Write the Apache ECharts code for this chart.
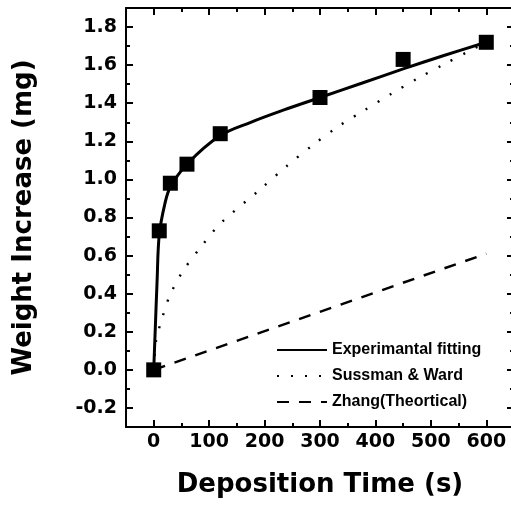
<!DOCTYPE html>
<html>
<head>
<meta charset="utf-8">
<script src="https://cdn.jsdelivr.net/npm/echarts@6/dist/echarts.min.js"></script>
<style>
  html, body { margin: 0; padding: 0; background: #fff; }
  #chart { width: 511px; height: 505px; }
</style>
</head>
<body>
<div id="chart"></div>
<script>
// Measured weight gain at each deposition time (squares)
const measuredTime   = [0, 10, 30, 60, 120, 300, 450, 600];
const measuredWeight = [0, 0.73, 0.98, 1.08, 1.24, 1.43, 1.63, 1.72];

// Experimental fitting curve
const fitTime   = [0, 3, 6, 10, 20, 30, 60, 120, 175, 235, 300, 375, 450, 525, 600];
const fitWeight = [0, 0.23, 0.46, 0.71, 0.87, 0.96, 1.08, 1.23, 1.30, 1.365, 1.43, 1.505, 1.58, 1.652, 1.72];

// Sussman & Ward model
const sussmanTime   = [0, 4, 14, 29, 53, 85, 121, 191, 240, 287, 334, 381, 429, 476, 524, 570, 600];
const sussmanWeight = [0, 0.15, 0.26, 0.39, 0.52, 0.645, 0.77, 0.945, 1.07, 1.18, 1.28, 1.365, 1.45, 1.53, 1.605, 1.675, 1.72];

// Zhang theoretical prediction
const zhangTime   = [0, 600];
const zhangWeight = [0, 0.61];

const seriesNames = ['Experimantal fitting', 'Sussman & Ward', 'Zhang(Theortical)'];

// Axis ranges and labelled ticks
const xRange = [-50, 650];
const yRange = [-0.3, 1.9];
const xTickValues = [0, 100, 200, 300, 400, 500, 600];
const yTickValues = [-0.2, 0, 0.2, 0.4, 0.6, 0.8, 1.0, 1.2, 1.4, 1.6, 1.8];

const pairs = (xs, ys) => xs.map((x, i) => [x, ys[i]]);

const black = '#000';
const tickFont = 'DejaVu Sans';
const line = { show: true, onZero: false, lineStyle: { color: black, width: 2 } };

// Each side gets two stacked axes: one for the short minor ticks, one for the long major ticks
function xAxisPair(position, withLabels) {
  const base = {
    type: 'value', position: position, gridIndex: 0,
    min: xRange[0], max: xRange[1], interval: 50,
    splitLine: { show: false }
  };
  return [
    Object.assign({}, base, {
      axisLine: line,
      axisTick: { show: true, inside: true, length: 4, lineStyle: { color: black, width: 2 } },
      axisLabel: withLabels ? {
        show: true, customValues: xTickValues, margin: 6,
        color: black, fontFamily: tickFont, fontWeight: 'bold', fontSize: 19,
        formatter: v => String(v)
      } : { show: false },
      name: withLabels ? 'Deposition Time (s)' : '',
      nameLocation: 'middle', nameGap: 45,
      nameTextStyle: { color: black, fontFamily: tickFont, fontWeight: 'bold', fontSize: 26 }
    }),
    Object.assign({}, base, {
      axisLine: { show: false, onZero: false },
      axisTick: { show: true, inside: true, length: 7, customValues: xTickValues, lineStyle: { color: black, width: 2 } },
      axisLabel: { show: false }
    })
  ];
}

function yAxisPair(position, withLabels) {
  const base = {
    type: 'value', position: position, gridIndex: 0,
    min: yRange[0], max: yRange[1], interval: 0.1,
    splitLine: { show: false }
  };
  return [
    Object.assign({}, base, {
      axisLine: line,
      axisTick: { show: true, inside: true, length: 4, lineStyle: { color: black, width: 2 } },
      axisLabel: withLabels ? {
        show: true, customValues: yTickValues, margin: 9,
        color: black, fontFamily: tickFont, fontWeight: 'bold', fontSize: 19,
        formatter: v => v.toFixed(1)
      } : { show: false },
      name: withLabels ? 'Weight Increase (mg)' : '',
      nameLocation: 'middle', nameGap: 89,
      nameTextStyle: { color: black, fontFamily: tickFont, fontWeight: 'bold', fontSize: 26 }
    }),
    Object.assign({}, base, {
      axisLine: { show: false, onZero: false },
      axisTick: { show: true, inside: true, length: 7, customValues: yTickValues, lineStyle: { color: black, width: 2 } },
      axisLabel: { show: false }
    })
  ];
}

const chart = echarts.init(document.getElementById('chart'), null, { renderer: 'canvas' });

chart.setOption({
  backgroundColor: '#fff',
  animation: false,
  grid: { left: 126, top: 8, right: -3, bottom: 78, outerBoundsMode: 'none', containLabel: false },
  xAxis: [].concat(xAxisPair('bottom', true), xAxisPair('top', false)),
  yAxis: [].concat(yAxisPair('left', true), yAxisPair('right', false)),
  legend: {
    data: seriesNames,
    orient: 'vertical',
    left: 276, top: 342,
    itemWidth: 50, itemHeight: 14, itemGap: 10,
    padding: 0,
    itemStyle: { opacity: 0 },
    textStyle: { color: black, fontFamily: 'Liberation Sans', fontWeight: 'bold', fontSize: 16, lineHeight: 16 }
  },
  series: [
    {
      name: seriesNames[0], type: 'line',
      data: pairs(fitTime, fitWeight),
      smooth: 0.35,
      symbol: 'none', showSymbol: false,
      lineStyle: { color: black, width: 3 },
      itemStyle: { color: black },
      z: 3
    },
    {
      name: seriesNames[1], type: 'line',
      data: pairs(sussmanTime, sussmanWeight),
      smooth: 0.3,
      symbol: 'none', showSymbol: false,
      lineStyle: { color: black, width: 2.4, type: [2, 12] },
      itemStyle: { color: black },
      z: 2
    },
    {
      name: seriesNames[2], type: 'line',
      data: pairs(zhangTime, zhangWeight),
      symbol: 'none', showSymbol: false,
      lineStyle: { color: black, width: 2.5, type: [12, 10] },
      itemStyle: { color: black },
      z: 2
    },
    {
      name: 'measured', type: 'scatter',
      data: pairs(measuredTime, measuredWeight),
      symbol: 'rect', symbolSize: 15,
      itemStyle: { color: black, opacity: 1 },
      z: 4
    }
  ]
});
</script>
</body>
</html>
